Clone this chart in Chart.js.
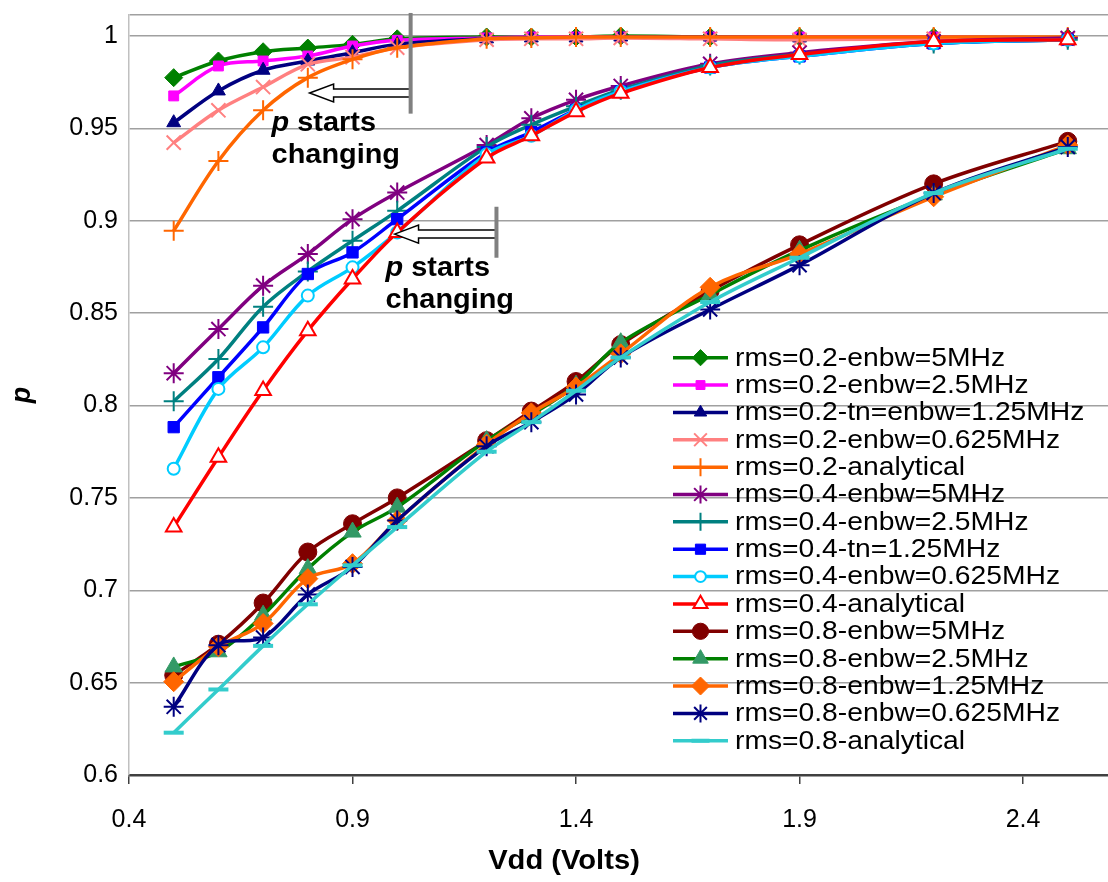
<!DOCTYPE html>
<html>
<head>
<meta charset="utf-8">
<title>p vs Vdd</title>
<script src="https://cdn.jsdelivr.net/npm/chart.js@4.4.1/dist/chart.umd.min.js"></script>
<style>
  html, body { margin: 0; padding: 0; background: #fff; overflow: hidden; }
  #wrap { width: 1108px; height: 882px; }
</style>
</head>
<body>
<div id="wrap"><canvas id="chart" width="1108" height="882"></canvas></div>
<script>
// supply voltage (V)
const vdd = [0.5, 0.6, 0.7, 0.8, 0.9, 1.0, 1.2, 1.3, 1.4, 1.5, 1.7, 1.9, 2.2, 2.5];
const xTicks = [0.4, 0.9, 1.4, 1.9, 2.4];
const yTicks = [0.6, 0.65, 0.7, 0.75, 0.8, 0.85, 0.9, 0.95, 1.0];

// rms = 0.2
const r02_5M    = [0.9775, 0.9865, 0.9915, 0.9935, 0.9955, 0.9985, 0.9995, 0.9995, 0.9995, 1.0, 0.9995, 0.9995, 0.9995, 0.9990];
const r02_2_5M  = [0.9676, 0.9838, 0.9865, 0.9892, 0.9946, 0.9977, 0.9990, 0.9995, 0.9995, 0.9995, 0.9995, 0.9995, 0.9995, 0.9990];
const r02_1_25M = [0.9531, 0.9703, 0.9815, 0.9865, 0.9910, 0.9955, 0.9985, 0.9990, 0.9990, 0.9995, 0.9995, 0.9990, 0.9990, 0.9990];
const r02_0_625 = [0.9423, 0.9598, 0.9724, 0.9847, 0.9886, 0.9937, 0.9980, 0.9985, 0.9985, 0.9990, 0.9985, 0.9980, 0.9985, 0.9985];
const r02_anal  = [0.8946, 0.9324, 0.9598, 0.9775, 0.9874, 0.9937, 0.9985, 0.9990, 0.9995, 0.9995, 0.9995, 0.9995, 0.9995, 0.9995];
// rms = 0.4
const r04_5M    = [0.8175, 0.8414, 0.8649, 0.8820, 0.9009, 0.9153, 0.9410, 0.9555, 0.9655, 0.9730, 0.9850, 0.9910, 0.9970, 0.9990];
const r04_2_5M  = [0.8023, 0.8252, 0.8535, 0.8726, 0.8892, 0.9054, 0.9400, 0.9520, 0.9620, 0.9710, 0.9840, 0.9900, 0.9960, 0.9980];
const r04_1_25M = [0.7883, 0.8153, 0.8423, 0.8712, 0.8829, 0.9009, 0.9370, 0.9480, 0.9600, 0.9700, 0.9830, 0.9890, 0.9960, 0.9980];
const r04_0_625 = [0.7658, 0.8090, 0.8315, 0.8595, 0.8748, 0.8937, 0.9360, 0.9460, 0.9600, 0.9700, 0.9830, 0.9890, 0.9960, 0.9980];
const r04_anal  = [0.7342, 0.7720, 0.8081, 0.8405, 0.8685, 0.8937, 0.9340, 0.9460, 0.9590, 0.9690, 0.9830, 0.9900, 0.9970, 0.9980];
// rms = 0.8
const r08_5M    = [0.6540, 0.6708, 0.6931, 0.7207, 0.7360, 0.7500, 0.7810, 0.7970, 0.8130, 0.8330, 0.8620, 0.8870, 0.9200, 0.9430];
const r08_2_5M  = [0.6585, 0.6667, 0.6865, 0.7117, 0.7315, 0.7450, 0.7810, 0.7950, 0.8110, 0.8340, 0.8600, 0.8840, 0.9140, 0.9390];
const r08_1_25M = [0.6505, 0.6694, 0.6820, 0.7063, 0.7144, 0.7378, 0.7790, 0.7960, 0.8100, 0.8280, 0.8640, 0.8820, 0.9130, 0.9410];
const r08_0_625 = [0.6369, 0.6703, 0.6744, 0.6977, 0.7126, 0.7378, 0.7780, 0.7910, 0.8060, 0.8260, 0.8520, 0.8760, 0.9150, 0.9400];
const r08_anal  = [0.6229, 0.6463, 0.6699, 0.6924, 0.7135, 0.7342, 0.7750, 0.7910, 0.8080, 0.8260, 0.8560, 0.8800, 0.9150, 0.9390];

const FONT = '"Liberation Sans", Arial, sans-serif';
const Y_MAX = 1.0114;

function series(label, values, color, style, radius, opts) {
  opts = opts || {};
  return {
    label: label,
    data: vdd.map((v, i) => ({ x: v, y: values[i] })),
    borderColor: color,
    borderWidth: 3.5,
    tension: 0.35,
    pointStyle: style,
    pointRadius: radius,
    pointHoverRadius: radius,
    pointBackgroundColor: opts.fill || opts.marker || color,
    pointBorderColor: opts.marker || color,
    pointBorderWidth: opts.bw || 1
  };
}

const datasets = [
  series('rms=0.2-enbw=5MHz', r02_5M, '#008000', 'rectRot', 9),
  series('rms=0.2-enbw=2.5MHz', r02_2_5M, '#FF00FF', 'rect', 7),
  series('rms=0.2-tn=enbw=1.25MHz', r02_1_25M, '#000080', 'triangle', 8),
  series('rms=0.2-enbw=0.625MHz', r02_0_625, '#FF8080', 'crossRot', 10, { bw: 2 }),
  series('rms=0.2-analytical', r02_anal, '#FF6600', 'cross', 10, { bw: 2 }),
  series('rms=0.4-enbw=5MHz', r04_5M, '#800080', 'star', 10, { bw: 2 }),
  series('rms=0.4-enbw=2.5MHz', r04_2_5M, '#008080', 'cross', 10, { bw: 2 }),
  series('rms=0.4-tn=1.25MHz', r04_1_25M, '#0000FF', 'rect', 8),
  series('rms=0.4-enbw=0.625MHz', r04_0_625, '#00CCFF', 'circle', 6, { fill: '#FFFFFF', bw: 2 }),
  series('rms=0.4-analytical', r04_anal, '#FF0000', 'triangle', 9, { fill: '#FFFFFF', bw: 2 }),
  series('rms=0.8-enbw=5MHz', r08_5M, '#800000', 'circle', 9),
  series('rms=0.8-enbw=2.5MHz', r08_2_5M, '#008000', 'triangle', 10, { marker: '#339966' }),
  series('rms=0.8-enbw=1.25MHz', r08_1_25M, '#FF6600', 'rectRot', 10),
  series('rms=0.8-enbw=0.625MHz', r08_0_625, '#000080', 'star', 10, { bw: 2 }),
  series('rms=0.8-analytical', r08_anal, '#33CCCC', 'line', 10, { bw: 4 })
];
// later series sit on top
datasets.forEach((d, i) => { d.order = datasets.length - i; });

// the "p starts changing" markers: grey bar, hollow arrow, caption
const notes = [
  { barX: 1.030, barTop: 1.0125, barBottom: 0.958, tipX: 0.804, arrowY: 0.9692, textX: 0.719, line1: 0.9486, line2: 0.9314 },
  { barX: 1.222, barTop: 0.9076, barBottom: 0.880, tipX: 0.994, arrowY: 0.8928, textX: 0.974, line1: 0.8703, line2: 0.8530 }
];

// text stretched sideways by sx
function wideText(ctx, str, x, y, sx) {
  ctx.save();
  ctx.translate(x, y);
  ctx.scale(sx, 1);
  ctx.fillText(str, 0, 0);
  const w = ctx.measureText(str).width * sx;
  ctx.restore();
  return w;
}

const notesPlugin = {
  id: 'notes',
  afterDatasetsDraw(chart) {
    const { ctx, scales: { x, y } } = chart;
    ctx.save();
    notes.forEach(n => {
      const bx = x.getPixelForValue(n.barX);
      const tx = x.getPixelForValue(n.tipX);
      const ay = y.getPixelForValue(n.arrowY);
      // arrow
      const head = 24, hh = 9, sh = 4;
      ctx.beginPath();
      ctx.moveTo(tx, ay);
      ctx.lineTo(tx + head, ay - hh);
      ctx.lineTo(tx + head, ay - sh);
      ctx.lineTo(bx, ay - sh);
      ctx.lineTo(bx, ay + sh);
      ctx.lineTo(tx + head, ay + sh);
      ctx.lineTo(tx + head, ay + hh);
      ctx.closePath();
      ctx.fillStyle = '#FFFFFF';
      ctx.fill();
      ctx.strokeStyle = '#000000';
      ctx.lineWidth = 1.5;
      ctx.stroke();
      // bar
      ctx.beginPath();
      ctx.moveTo(bx, y.getPixelForValue(n.barTop));
      ctx.lineTo(bx, y.getPixelForValue(n.barBottom));
      ctx.strokeStyle = '#808080';
      ctx.lineWidth = 4;
      ctx.stroke();
      // caption
      const lx = x.getPixelForValue(n.textX);
      ctx.fillStyle = '#000000';
      ctx.textBaseline = 'alphabetic';
      ctx.textAlign = 'left';
      ctx.font = 'italic bold 27px ' + FONT;
      const pw = wideText(ctx, 'p', lx, y.getPixelForValue(n.line1), 1.07);
      ctx.font = 'bold 27px ' + FONT;
      wideText(ctx, ' starts', lx + pw, y.getPixelForValue(n.line1), 1.07);
      wideText(ctx, 'changing', lx, y.getPixelForValue(n.line2), 1.07);
    });
    ctx.restore();
  }
};

// x axis title sits left of the visible plot centre
const xTitlePlugin = {
  id: 'xTitle',
  afterDraw(chart) {
    const ctx = chart.ctx;
    ctx.save();
    ctx.font = 'bold 27px ' + FONT;
    ctx.fillStyle = '#000000';
    ctx.textBaseline = 'middle';
    ctx.textAlign = 'left';
    const sx = 1.08;
    const w = ctx.measureText('Vdd (Volts)').width * sx;
    wideText(ctx, 'Vdd (Volts)', 564 - w / 2, 862, sx);
    ctx.restore();
  }
};

// legend drawn inside the plot, line sample with its marker
const legendPlugin = {
  id: 'boxLegend',
  afterDraw(chart) {
    const ctx = chart.ctx;
    const top = 357.7, step = 27.36;
    ctx.save();
    chart.data.datasets.forEach((ds, i) => {
      const yy = top + i * step;
      ctx.beginPath();
      ctx.moveTo(673, yy);
      ctx.lineTo(728, yy);
      ctx.strokeStyle = ds.borderColor;
      ctx.lineWidth = ds.borderWidth;
      ctx.stroke();
      ctx.fillStyle = ds.pointBackgroundColor;
      ctx.strokeStyle = ds.pointBorderColor;
      ctx.lineWidth = ds.pointBorderWidth;
      Chart.helpers.drawPoint(ctx, {
        pointStyle: ds.pointStyle,
        radius: ds.pointRadius * 0.9,
        rotation: 0,
        borderWidth: ds.pointBorderWidth
      }, 700.5, yy);
      ctx.fillStyle = '#000000';
      ctx.font = '25px ' + FONT;
      ctx.textBaseline = 'middle';
      ctx.textAlign = 'left';
      wideText(ctx, ds.label, 735, yy + 1, 1.13);
    });
    ctx.restore();
  }
};

new Chart(document.getElementById('chart'), {
  type: 'line',
  data: { datasets: datasets },
  options: {
    responsive: false,
    animation: false,
    layout: { autoPadding: false, padding: { top: 15, right: 0, left: 0, bottom: 0 } },
    plugins: {
      legend: { display: false },
      tooltip: { enabled: false }
    },
    scales: {
      x: {
        type: 'linear',
        min: 0.4,
        max: 2.59,
        afterBuildTicks(s) { s.ticks = xTicks.map(v => ({ value: v })); },
        afterFit(s) {
          s.height = 107;
          s.paddingLeft = 0;
          s.paddingRight = 0;
        },
        ticks: {
          color: '#000000',
          font: { family: FONT, size: 25 },
          padding: 21,
          maxRotation: 0,
          callback: v => String(v)
        },
        grid: { drawOnChartArea: false, color: '#404040', lineWidth: 1.5, tickLength: 9 },
        border: { color: '#404040', width: 2.5 },
        title: { display: false }
      },
      y: {
        min: 0.6,
        max: Y_MAX,
        afterBuildTicks(s) { s.ticks = yTicks.concat([Y_MAX]).map(v => ({ value: v })); },
        afterFit(s) {
          s.width = 129;
          s.paddingTop = 0;
          s.paddingBottom = 0;
        },
        ticks: {
          color: '#000000',
          font: { family: FONT, size: 25 },
          padding: 11,
          callback: v => (v > 1.001 ? '' : String(+v.toFixed(2)))
        },
        grid: { color: '#A0A0A0', lineWidth: 1.5, drawTicks: false },
        border: { color: '#C0C0C0', width: 1.5 },
        title: {
          display: true,
          text: 'p',
          color: '#000000',
          font: { family: FONT, size: 27, weight: 'bold', style: 'italic' },
          padding: { top: 6, bottom: 0 }
        }
      }
    }
  },
  plugins: [notesPlugin, legendPlugin, xTitlePlugin]
});
</script>
</body>
</html>
